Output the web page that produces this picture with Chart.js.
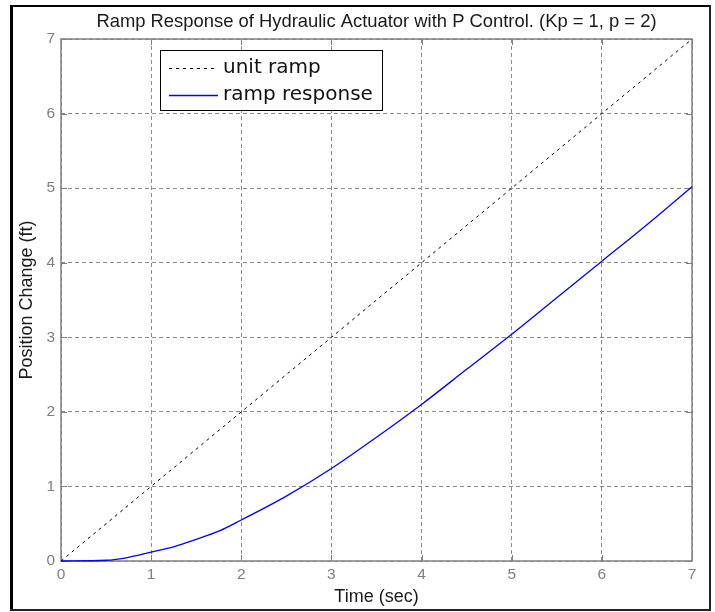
<!DOCTYPE html>
<html><head><meta charset="utf-8">
<script src="https://cdn.jsdelivr.net/npm/chart.js@4.4.1/dist/chart.umd.min.js"></script>
<style>html,body{margin:0;padding:0;background:#fff}canvas{display:block}</style>
</head><body><canvas id="c" width="715" height="612"></canvas>
<script>
const chartTitle = 'Ramp Response of Hydraulic Actuator with P Control. (Kp = 1, p = 2)';
const xAxisLabel = 'Time (sec)';
const yAxisLabel = 'Position Change (ft)';
const seriesNames = ['unit ramp', 'ramp response'];
const xTicks = [0, 1, 2, 3, 4, 5, 6, 7];
const yTicks = [0, 1, 2, 3, 4, 5, 6, 7];
const rampTime = [0, 1, 2, 3, 4, 5, 6, 7];
const unitRamp = [0, 1, 2, 3, 4, 5, 6, 7];
const respTime = [0, 0.5, 0.75, 1, 1.25, 1.5, 1.75, 2, 2.5, 3, 3.5, 4, 4.5, 5, 5.5, 6, 6.5, 7];
const rampResponse = [0, 0.01, 0.05, 0.12, 0.19, 0.29, 0.4, 0.55, 0.87, 1.24, 1.66, 2.1, 2.57, 3.04, 3.53, 4.02, 4.51, 5.02];

const SANS = '"Liberation Sans", Arial, sans-serif';
const GRID = '#8c8c8c';
const AXIS = '#808080';

const deco = {
  id: 'deco',
  beforeDraw(chart) {
    const ctx = chart.ctx;
    ctx.save();
    ctx.fillStyle = '#fff';
    ctx.fillRect(0, 0, chart.width, chart.height);
    ctx.restore();
  },
  beforeDatasetsDraw(chart) {
    const ctx = chart.ctx;
    const a = chart.chartArea;
    const xs = chart.scales.x, ys = chart.scales.y;
    ctx.save();
    ctx.strokeStyle = AXIS;
    ctx.lineWidth = 1;
    ctx.setLineDash([]);
    ctx.beginPath();
    xTicks.forEach(v => {
      const px = Math.round(xs.getPixelForValue(v)) + 0.5;
      ctx.moveTo(px, a.bottom); ctx.lineTo(px, a.bottom - 6);
      ctx.moveTo(px, a.top); ctx.lineTo(px, a.top + 6);
    });
    yTicks.forEach(v => {
      const py = Math.round(ys.getPixelForValue(v)) + 0.5;
      ctx.moveTo(a.left, py); ctx.lineTo(a.left + 6, py);
      ctx.moveTo(a.right, py); ctx.lineTo(a.right - 6, py);
    });
    ctx.stroke();
    ctx.lineWidth = 1.5;
    ctx.strokeRect(Math.round(a.left), Math.round(a.top), Math.round(a.right - a.left), Math.round(a.bottom - a.top));
    ctx.restore();
  },
  afterDraw(chart) {
    const ctx = chart.ctx;
    ctx.save();
    const lx = 160.5, ly = 50.5, lw = 222, lh = 60;
    ctx.fillStyle = '#fff';
    ctx.fillRect(lx, ly, lw, lh);
    ctx.strokeStyle = '#000';
    ctx.lineWidth = 1;
    ctx.strokeRect(lx, ly, lw, lh);
    ctx.font = '20px "DejaVu Sans", Verdana, sans-serif';
    ctx.textBaseline = 'middle';
    ctx.textAlign = 'left';
    chart.data.datasets.forEach((ds, i) => {
      const yy = ly + 17.5 + i * 27;
      ctx.strokeStyle = ds.borderColor;
      ctx.lineWidth = ds.borderWidth;
      ctx.setLineDash(ds.borderDash || []);
      ctx.beginPath();
      ctx.moveTo(169, Math.round(yy) + 0.5);
      ctx.lineTo(218, Math.round(yy) + 0.5);
      ctx.stroke();
      ctx.setLineDash([]);
      ctx.fillStyle = '#111';
      ctx.fillText(ds.label, 223, yy);
    });
    ctx.fillStyle = '#000';
    ctx.fillRect(10, 5, 3, 606);
    ctx.fillRect(10, 5, 701, 2);
    ctx.fillStyle = '#222';
    ctx.fillRect(709, 5, 2, 606);
    ctx.fillRect(10, 609, 701, 2);
    ctx.restore();
  }
};

new Chart(document.getElementById('c'), {
  type: 'line',
  data: {
    datasets: [
      {
        label: seriesNames[0],
        data: rampTime.map((t, i) => ({ x: t, y: unitRamp[i] })),
        borderColor: '#000',
        borderWidth: 1,
        borderDash: [3, 4],
        pointRadius: 0,
        fill: false,
        tension: 0
      },
      {
        label: seriesNames[1],
        data: respTime.map((t, i) => ({ x: t, y: rampResponse[i] })),
        borderColor: '#0000ff',
        borderWidth: 1.3,
        pointRadius: 0,
        fill: false,
        clip: 3,
        cubicInterpolationMode: 'monotone'
      }
    ]
  },
  options: {
    responsive: false,
    animation: false,
    devicePixelRatio: 1,
    layout: { padding: { left: 12, right: 23, top: 7, bottom: 0 } },
    plugins: {
      legend: { display: false },
      tooltip: { enabled: false },
      title: { display: false }
    },
    scales: {
      x: {
        type: 'linear',
        min: 0, max: 7,
        afterBuildTicks: s => { s.ticks = xTicks.map(v => ({ value: v })); },
        afterFit: s => { s.height = 51; },
        ticks: { color: AXIS, font: { family: SANS, size: 15.5 }, padding: 4, maxRotation: 0 },
        grid: { color: GRID, lineWidth: 1, drawTicks: false },
        border: { display: false, dash: [4, 3] },
        title: { display: true, text: xAxisLabel, color: '#1a1a1a', font: { family: SANS, size: 18 }, padding: { top: 0, bottom: 4 } }
      },
      xTop: {
        type: 'linear',
        position: 'top',
        min: 0, max: 7,
        afterFit: s => { s.height = 32; },
        ticks: { display: false },
        grid: { display: false, drawTicks: false },
        border: { display: false },
        title: { display: true, text: chartTitle, color: '#1a1a1a', font: { family: SANS, size: 18.4 }, padding: { top: 4, bottom: 0 } }
      },
      y: {
        type: 'linear',
        min: 0, max: 7,
        afterBuildTicks: s => { s.ticks = yTicks.map(v => ({ value: v })); },
        afterFit: s => { s.width = 49; },
        ticks: { color: AXIS, font: { family: SANS, size: 15.5 }, padding: 6 },
        grid: { color: GRID, lineWidth: 1, drawTicks: false },
        border: { display: false, dash: [4, 3] },
        title: { display: true, text: yAxisLabel, color: '#1a1a1a', font: { family: SANS, size: 18 }, padding: { top: 4, bottom: 0 } }
      }
    }
  },
  plugins: [deco]
});
</script></body></html>
